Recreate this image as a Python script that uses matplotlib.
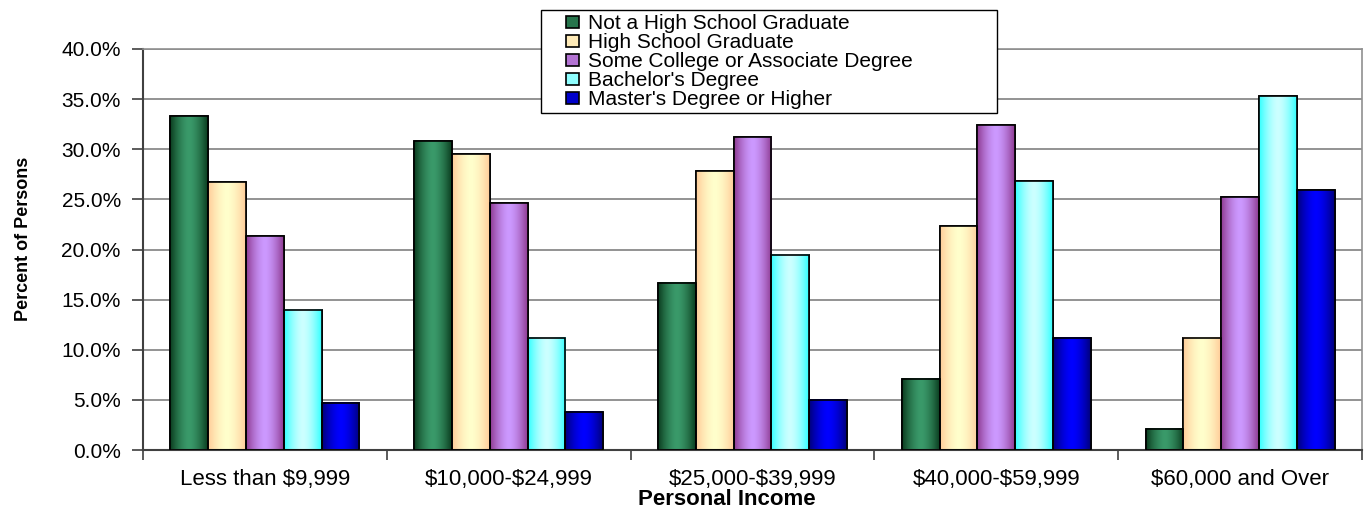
import numpy as np
from matplotlib import pyplot as plt
from matplotlib.colors import LinearSegmentedColormap
from matplotlib.patches import Rectangle
from matplotlib.legend_handler import HandlerPatch
from matplotlib.ticker import FuncFormatter, MultipleLocator

plt.rcParams['font.family'] = ['Liberation Sans', 'DejaVu Sans']
plt.rcParams['text.parse_math'] = False

# data (percent of persons)
categories = ['Less than $9,999', '$10,000-$24,999', '$25,000-$39,999',
              '$40,000-$59,999', '$60,000 and Over']
series = ['Not a High School Graduate', 'High School Graduate',
          'Some College or Associate Degree', "Bachelor's Degree",
          "Master's Degree or Higher"]
not_hs = [33.3, 30.8, 16.7, 7.1, 2.1]
hs_grad = [26.7, 29.5, 27.8, 22.3, 11.2]
some_college = [21.3, 24.6, 31.2, 32.4, 25.2]
bachelor = [14.0, 11.2, 19.5, 26.8, 35.3]
master = [4.7, 3.8, 5.0, 11.2, 25.9]

values = [not_hs, hs_grad, some_college, bachelor, master]
# (edge colour, centre colour) for the Excel-style gradient
grads = [('#0b3d1f', '#3a9a6a'),
         ('#ffcc99', '#ffffcc'),
         ('#8e3a91', '#cc99ff'),
         ('#33ffff', '#ccffff'),
         ('#00007a', '#0000ff')]


def small_square(legend, orig_handle, xdescent, ydescent, width, height, fontsize):
    # little square pushed to the right end of the handle box
    s = 0.6 * fontsize
    return Rectangle((width - s - xdescent, -ydescent + (height - s) / 2), s, s)


fig = plt.figure(figsize=(13.7, 5.12), dpi=100)
ax = fig.add_axes([143/1370, 62/512, 1219/1370, 401/512])

x = np.arange(len(categories))
w = 0.155
t = np.linspace(0, 1, 64)
prof = 1 - np.abs(2*t - 1)**1.6
grad_img = prof[np.newaxis, :]

handles = []
for i, (name, vals, (edge, centre)) in enumerate(zip(series, values, grads)):
    pos = x + (i - 2) * w
    cmap = LinearSegmentedColormap.from_list('g%d' % i, [edge, centre])
    bars = ax.bar(pos, vals, w, color=(cmap(0.6)), edgecolor='black', linewidth=1.2,
                  label=name, zorder=2)
    handles.append(bars.patches[0])
    for b in bars:
        ax.imshow(grad_img, extent=[b.get_x(), b.get_x() + b.get_width(), 0, b.get_height()],
                  aspect='auto', cmap=cmap, vmin=0, vmax=1, zorder=2.5, interpolation='bilinear')
    ax.bar(pos, vals, w, facecolor='none', edgecolor='black', linewidth=1.2, zorder=3)

ax.set_xlim(-0.5, len(categories) - 0.5)
ax.set_ylim(0, 40)
ax.set_aspect('auto')

ax.yaxis.set_major_locator(MultipleLocator(5))
ax.yaxis.set_major_formatter(FuncFormatter(lambda v, p: '%.1f%%' % v))
ax.grid(axis='y', color='#808080', linewidth=1.2, zorder=0)
ax.set_axisbelow(True)

ax.set_xticks(x)
ax.set_xticklabels(categories, fontsize=16)
ax.set_xticks(np.arange(-0.5, len(categories)), minor=True)
ax.tick_params(axis='x', which='major', length=0, pad=14)
ax.tick_params(axis='x', which='minor', length=7, width=1.2, color='#404040')
ax.tick_params(axis='y', length=8, width=1.2, color='#404040', labelsize=15, pad=8)

for s in ['left', 'bottom']:
    ax.spines[s].set_color('#404040')
    ax.spines[s].set_linewidth(1.5)
for s in ['top', 'right']:
    ax.spines[s].set_color('#909090')
    ax.spines[s].set_linewidth(1.2)

ax.set_xlabel('Personal Income', fontsize=16, fontweight='bold')
ax.xaxis.set_label_coords(0.479, -0.098)
ax.set_ylabel('Percent of Persons', fontsize=13, fontweight='bold')
ax.yaxis.set_label_coords(-0.091, 0.527)

leg = ax.legend(handles, series, loc='upper left',
                bbox_to_anchor=(541/1370, 1 - 10/512 - 0.01, 456/1370, 0.01),
                bbox_transform=fig.transFigure, mode='expand', fontsize=15, frameon=True,
                fancybox=False, edgecolor='black', framealpha=1,
                handler_map={Rectangle: HandlerPatch(patch_func=small_square)},
                handlelength=1.6, handleheight=0.7, handletextpad=0.45,
                labelspacing=0.0, borderpad=0.2, borderaxespad=0)
leg.get_frame().set_linewidth(1.0)
leg.set_zorder(5)

fig.savefig('out.png', dpi=100)
